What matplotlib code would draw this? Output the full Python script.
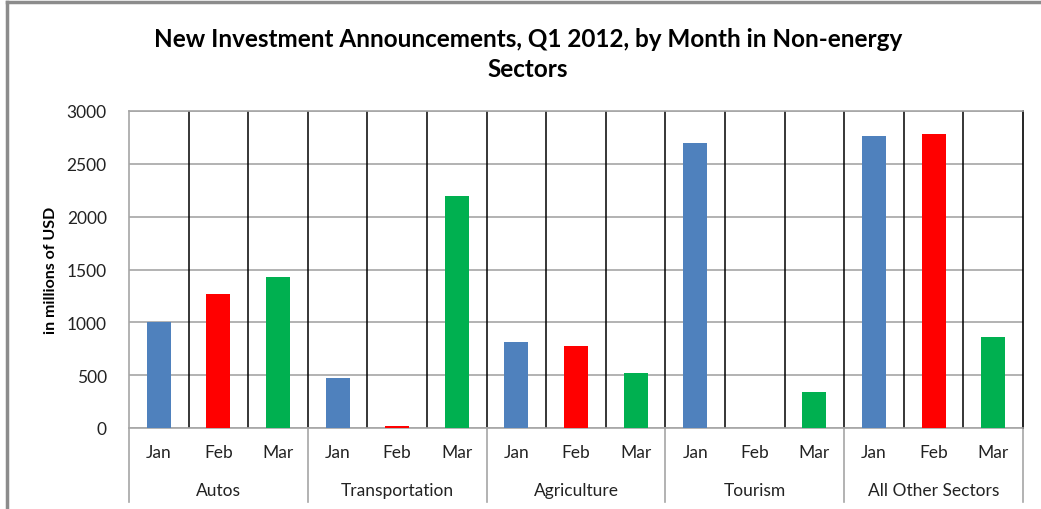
import numpy as np
import matplotlib.pyplot as plt
from matplotlib.lines import Line2D

plt.rcParams['font.family'] = ['Lato', 'DejaVu Sans']

sectors = ["Autos", "Transportation", "Agriculture", "Tourism", "All Other Sectors"]
months = ["Jan", "Feb", "Mar"]
jan = [1000, 470, 810, 2700, 2765]
feb = [1272, 15, 780, 0, 2778]
mar = [1432, 2200, 520, 338, 862]
month_colors = ["#4F81BD", "#FF0000", "#00B050"]

fig = plt.figure(figsize=(10.41, 5.10), dpi=100)
# outer frame: only left and top edges visible
fig.add_artist(Line2D([7 / 1041, 7 / 1041], [0, 1 - 3 / 510], color="#8c8c8c", linewidth=2.5))
fig.add_artist(Line2D([7 / 1041, 1], [1 - 3 / 510, 1 - 3 / 510], color="#8c8c8c", linewidth=2.5))

ax = fig.add_axes([129 / 1041, 1 - 429 / 510, (1023 - 129) / 1041, (429 - 112) / 510])

n = len(sectors)
values = np.array([jan, feb, mar]).T.flatten()
colors = month_colors * n
x = np.arange(len(values))
ax.bar(x, values, width=0.4, color=colors, zorder=3)

ax.set_xlim(-0.5, len(values) - 0.5)
ax.set_ylim(0, 3000)
ax.set_yticks(np.arange(0, 3001, 500))
ax.yaxis.grid(True, color="#a6a6a6", linewidth=1.2, zorder=0)
ax.set_axisbelow(True)
for b in np.arange(0.5, len(values) - 0.5, 1):
    ax.axvline(b, color="black", linewidth=1.1, zorder=1)
ax.set_xticks([])
ax.tick_params(axis="y", length=0, pad=16, labelsize=12.5, labelcolor="#222222")

ax.spines["top"].set_color("#a6a6a6")
ax.spines["right"].set_color("black")
ax.spines["left"].set_color("#a6a6a6")
ax.spines["bottom"].set_color("#a6a6a6")
for s in ax.spines.values():
    s.set_linewidth(1.2)

tr = ax.get_xaxis_transform()
for i, xi in enumerate(x):
    ax.text(xi, -0.075, months[i % 3], transform=tr, ha="center", va="center",
            fontsize=12.5, color="#222222")
for g in range(n):
    ax.text(3 * g + 1, -0.195, sectors[g], transform=tr, ha="center", va="center",
            fontsize=12.5, color="#222222")
for b in np.arange(-0.5, len(values), 3):
    ax.plot([b, b], [0, -0.235], transform=tr, color="#a6a6a6", linewidth=1.2, clip_on=False)

ax.set_ylabel("in millions of USD", fontsize=11.5, fontweight="bold", labelpad=6)
fig.text(528 / 1041, 1 - 40 / 510, "New Investment Announcements, Q1 2012, by Month in Non-energy",
         ha="center", va="center", fontsize=17.5, fontweight="bold")
fig.text(528 / 1041, 1 - 70 / 510, "Sectors", ha="center", va="center", fontsize=17.5, fontweight="bold")

fig.savefig("out.png", dpi=100)
